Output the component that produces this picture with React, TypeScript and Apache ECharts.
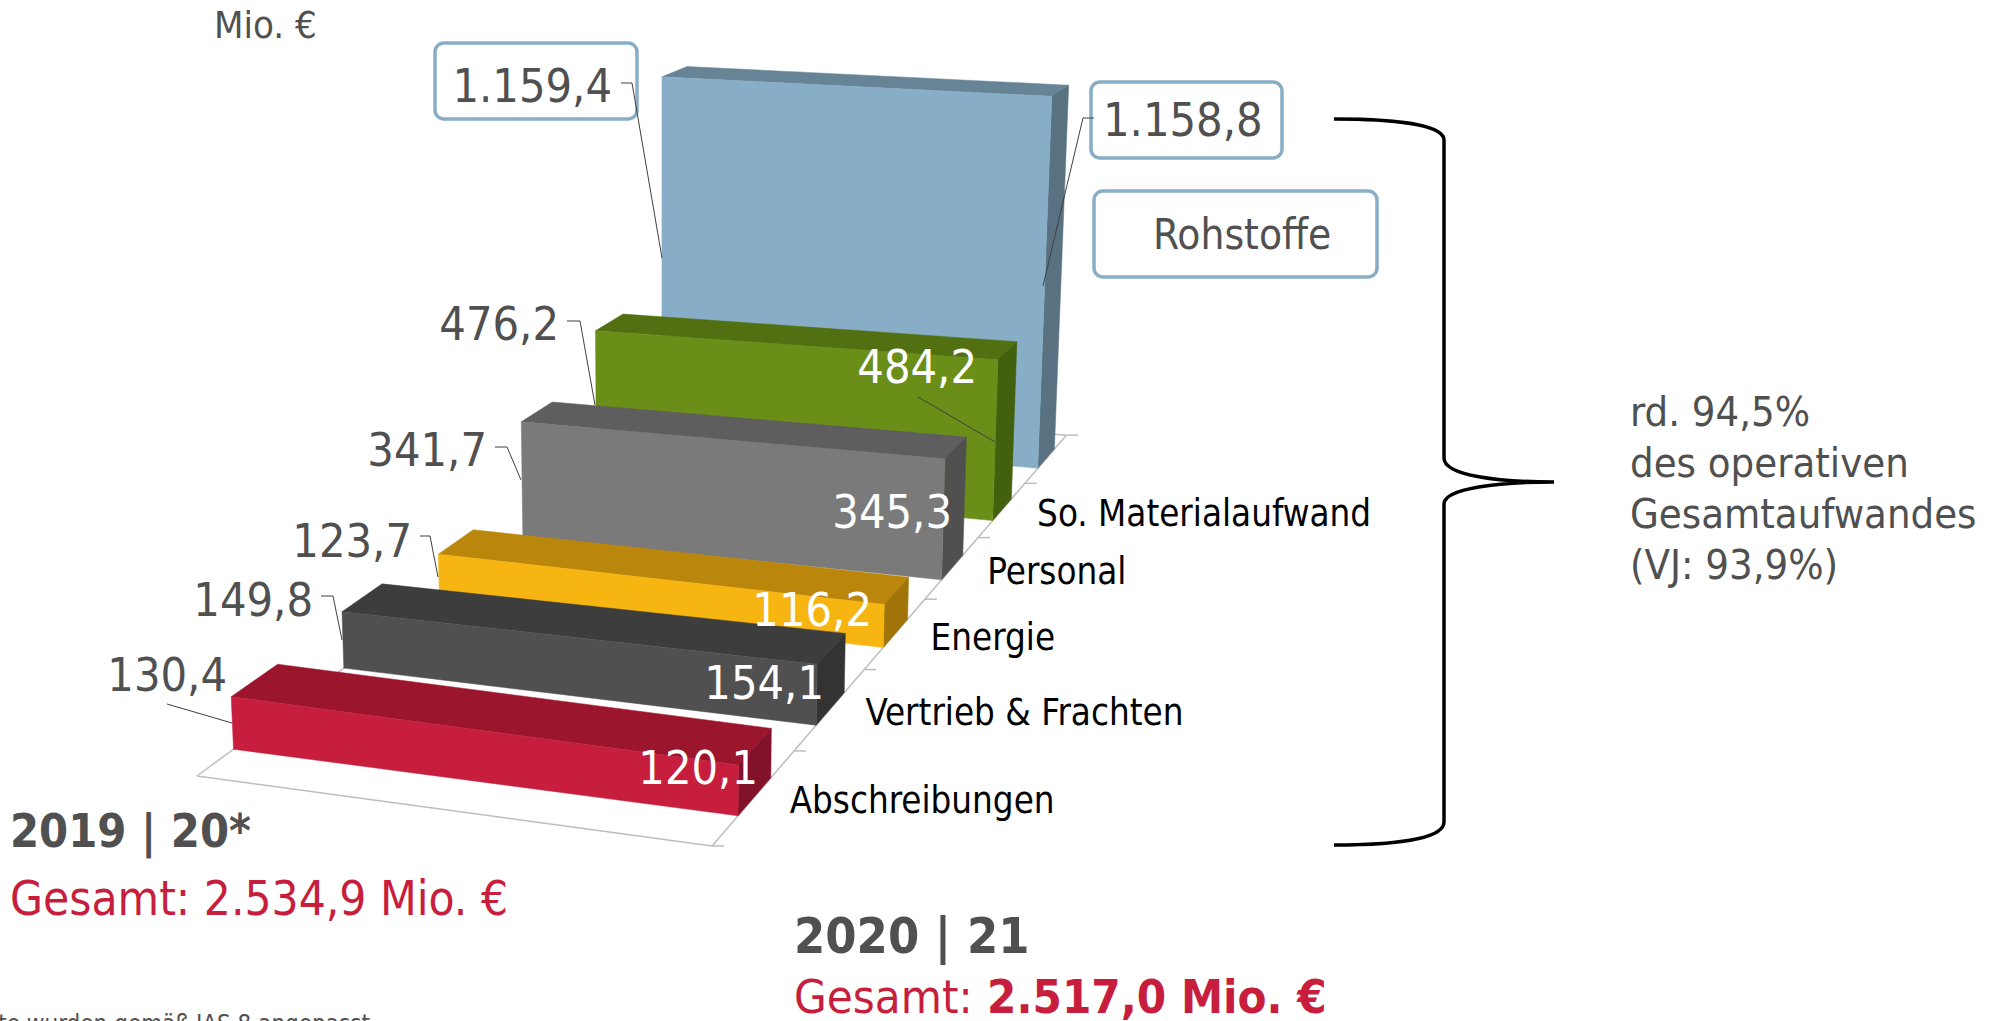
import React, { useEffect, useRef } from "react";
import * as echarts from "echarts";

// ---- data ----
const periods = ["2019 | 20*", "2020 | 21"];
const categories = ["Abschreibungen", "Vertrieb & Frachten", "Energie", "Personal", "So. Materialaufwand", "Rohstoffe"];
const values2019 = [130.4, 149.8, 123.7, 341.7, 476.2, 1159.4];
const values2020 = [120.1, 154.1, 116.2, 345.3, 484.2, 1158.8];
const totalPrev = "Gesamt: 2.534,9 Mio. €";
const totalCurrLabel = "Gesamt:";
const totalCurrValue = "2.517,0 Mio. €";
const unitLabel = "Mio. €";
const noteLines = ["rd. 94,5%", "des operativen", "Gesamtaufwandes", "(VJ: 93,9%)"];
const footnote = "* Vorjahreswerte wurden gemäß IAS 8 angepasst";

// ---- styles ----
const FONT = "'DejaVu Sans Condensed','DejaVu Sans',sans-serif";
const GREY = "#505050";
const RED = "#C71E3D";
const BLUE = "#87AEC6";
const faceColors = [
  { front: "#C71E3D", top: "#9B152D", side: "#82112A" },
  { front: "#505050", top: "#3D3D3D", side: "#333333" },
  { front: "#F7B512", top: "#BA870C", side: "#A07408" },
  { front: "#7A7A7A", top: "#5E5E5E", side: "#505050" },
  { front: "#6A8E18", top: "#527012", side: "#42600E" },
  { front: "#87AEC6", top: "#678496", side: "#587282" },
];

// ---- perspective camera: (u across, d depth, v value) -> screen ----
const YMAX = 1200;
const DEPTH_FRONT = 0.3;
const DEPTH_BACK = 0.7;
function project(u: number, d: number, v: number): number[] {
  const w = 1 - 0.0579 * u + 0.0793 * d - 4.203e-5 * v;
  const X = 197 + 473.8 * u + 140.2 * d - 4.203e-5 * 660 * v;
  const Y = 776 + 21 * u - 30 * d - 4.203e-5 * 10500 * v;
  return [X / w, Y / w];
}

function unit(api: any, params: any, period: number, value: number) {
  const c = api.coord([period, value]);
  const sys = params.coordSys;
  return { u: (c[0] - sys.x) / sys.width, v: ((sys.y + sys.height - c[1]) / sys.height) * YMAX };
}

function label(x: number, y: number, text: string, fontSize: number, fill: string, align = "left", bold = false) {
  return {
    type: "text",
    x,
    y,
    z: 20,
    style: {
      text,
      fontSize,
      fontFamily: FONT,
      fontWeight: bold ? "bold" : "normal",
      fill,
      align,
      verticalAlign: "middle",
      textAlign: align,
      textVerticalAlign: "middle",
    },
  };
}

const fmt = (v: number) =>
  v.toLocaleString("de-DE", { minimumFractionDigits: 1, maximumFractionDigits: 1 });

// ---- annotation layout ----
const prevLabelPos = [[227, 675], [313, 600], [412, 541], [487, 450], [559, 324], [612, 86]];
const currLabelPos = [[758, 768], [824, 683], [872, 610], [952, 512], [977, 367], [1103, 120]];
const leaders = [
  [[167, 704], [232, 723]],
  [[321, 596], [333, 596], [342, 640]],
  [[420, 536], [430, 536], [438, 577]],
  [[495, 447], [507, 447], [521, 480]],
  [[567, 321], [580, 321], [595, 405]],
  [[621, 83], [632, 83], [662, 258]],
  [[918, 397], [995, 442]],
  [[1094, 118], [1083, 118], [1043, 286]],
];
const boxes = [
  [435, 43, 202, 76],
  [1091, 82, 191, 76],
  [1094, 191, 283, 86],
];
const BRACE =
  "M1334 119 C1390 119 1444 124 1444 140 L1444 458 C1444 476 1500 482 1554 482 C1500 482 1444 488 1444 504 L1444 822 C1444 840 1390 845 1334 845";

echarts.graphic.registerShape("brace", echarts.graphic.extendPath(BRACE, {}));

export default function App() {
  const ref = useRef<HTMLDivElement>(null);
  useEffect(() => {
    const chart = echarts.init(ref.current!, null, { renderer: "svg" });
    const seriesData = categories.map((_, i) => [i, values2019[i], values2020[i]]).reverse();
    const graphics: any[] = [];
    boxes.forEach(([x, y, width, height]) =>
      graphics.push({
        type: "rect",
        z: 15,
        shape: { x, y, width, height, r: 9 },
        style: { fill: "#fff", stroke: BLUE, lineWidth: 3.5 },
      })
    );
    leaders.forEach((points) =>
      graphics.push({
        type: "polyline",
        z: 16,
        shape: { points },
        style: { fill: "none", stroke: "#404040", lineWidth: 1 },
      })
    );
    values2019.forEach((v, i) => graphics.push(label(prevLabelPos[i][0], prevLabelPos[i][1], fmt(v), 46.5, GREY, "right")));
    values2020.forEach((v, i) => {
      const outside = i === 5;
      graphics.push(label(currLabelPos[i][0], currLabelPos[i][1], fmt(v), 46.5, outside ? GREY : "#FFFFFF", outside ? "left" : "right"));
    });
    graphics.push(label(1153, 234, categories[5], 42, GREY));
    graphics.push(label(214, 25, unitLabel, 38, GREY));
    graphics.push(label(10, 831, periods[0], 46.5, GREY, "left", true));
    graphics.push(label(10, 898, totalPrev, 47.4, RED));
    graphics.push(label(794, 936, periods[1], 50, GREY, "left", true));
    graphics.push(label(794, 996, totalCurrLabel, 47, RED));
    graphics.push(label(987, 996, totalCurrValue, 47, RED, "left", true));
    noteLines.forEach((t, i) => graphics.push(label(1630, 412 + i * 51, t, 41.4, GREY)));
    graphics.push(label(370, 1024, footnote, 24, GREY, "right"));
    graphics.push({
      type: "brace",
      z: 14,
      x: 0,
      y: 0,
      style: { fill: "none", stroke: "#000", lineWidth: 3.5 },
    });

    chart.setOption({
      animation: false,
      grid: { left: 0, right: 0, top: 0, bottom: 0 },
      xAxis: { type: "category", data: periods, boundaryGap: false, show: false },
      yAxis: { type: "value", min: 0, max: YMAX, show: false },
      graphic: graphics,
      series: [
        {
          type: "custom",
          name: "floor",
          z: 1,
          silent: true,
          clip: false,
          data: [[0, 0, 0]],
          renderItem: (params: any, api: any) => {
            const nDepth = categories.length;
            const a = unit(api, params, 0, 0);
            const b = unit(api, params, 1, 0);
            const line = (p: number[], q: number[]) => ({
              type: "line",
              shape: { x1: p[0], y1: p[1], x2: q[0], y2: q[1] },
              style: { stroke: "#BDBDBD", lineWidth: 1.5, fill: "none" },
            });
            const children: any[] = [
              line(project(a.u, 0, 0), project(b.u, 0, 0)),
              line(project(a.u, 0, 0), project(a.u, nDepth, 0)),
              line(project(b.u, 0, 0), project(b.u, nDepth, 0)),
              line(project(a.u, nDepth, 0), project(b.u, nDepth, 0)),
            ];
            for (let d = 0; d <= nDepth; d++) {
              const p = project(b.u, d, 0);
              children.push(line(p, [p[0] + 12, p[1]]));
            }
            return { type: "group", children };
          },
        },
        {
          type: "custom",
          name: "Aufwand",
          z: 2,
          silent: true,
          clip: false,
          data: seriesData,
          renderItem: (params: any, api: any) => {
            const depth = api.value(0) as number;
            const a = unit(api, params, 0, api.value(1));
            const b = unit(api, params, 1, api.value(2));
            const zero0 = unit(api, params, 0, 0);
            const zero1 = unit(api, params, 1, 0);
            const d0 = depth + DEPTH_FRONT;
            const d1 = depth + DEPTH_BACK;
            const fl = project(zero0.u, d0, 0);
            const fr = project(zero1.u, d0, 0);
            const br = project(zero1.u, d1, 0);
            const ftl = project(a.u, d0, a.v);
            const ftr = project(b.u, d0, b.v);
            const btl = project(a.u, d1, a.v);
            const btr = project(b.u, d1, b.v);
            const col = faceColors[depth];
            const poly = (points: number[][], fill: string) => ({
              type: "polygon",
              shape: { points },
              style: { fill, stroke: fill, lineWidth: 0.5 },
            });
            const children: any[] = [
              poly([btl, btr, ftr, ftl], col.top),
              poly([br, btr, ftr, fr], col.side),
              poly([fl, ftl, ftr, fr], col.front),
            ];
            if (depth < categories.length - 1) {
              const anchor = project(zero1.u, depth + 0.5, 0);
              children.push({
                type: "text",
                x: anchor[0] + 35,
                y: anchor[1] + 4,
                style: {
                  text: categories[depth],
                  fontSize: 36.4,
                  fontFamily: FONT,
                  fill: "#000",
                  align: "left",
                  verticalAlign: "middle",
                  textAlign: "left",
                  textVerticalAlign: "middle",
                },
              });
            }
            return { type: "group", children };
          },
        },
      ],
    });
    return () => chart.dispose();
  }, []);
  return <div ref={ref} style={{ position: "fixed", left: 0, top: 0, width: 1992, height: 1021, background: "#fff" }} />;
}
